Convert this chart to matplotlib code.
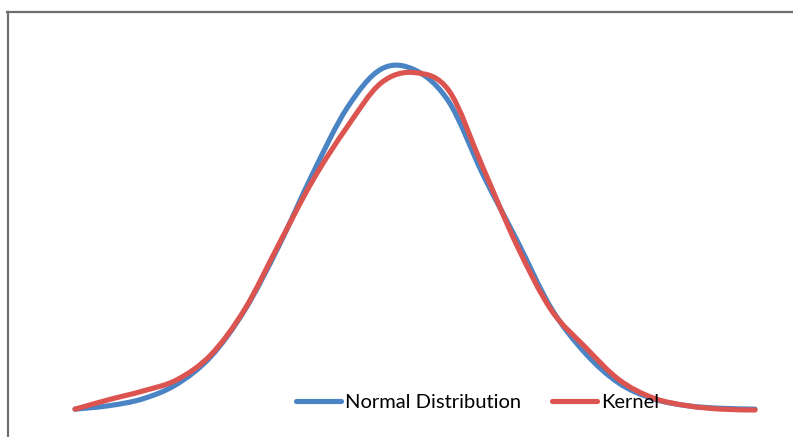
import matplotlib.pyplot as plt
from matplotlib.path import Path
from matplotlib.patches import PathPatch
from matplotlib.lines import Line2D

# x positions of the points
x = [-3.5, -3.15, -2.8, -2.45, -2.1, -1.75, -1.4, -1.05, -0.7, -0.35, 0.0,
     0.35, 0.7, 1.05, 1.4, 1.75, 2.1, 2.45, 2.8, 3.15, 3.5]

normal = [0.001, 0.005, 0.013, 0.030, 0.062, 0.116, 0.190, 0.274, 0.349, 0.394, 0.393,
          0.356, 0.272, 0.196, 0.118, 0.066, 0.031, 0.013, 0.005, 0.002, 0.001]

kernel = [0.001, 0.012, 0.022, 0.035, 0.064, 0.117, 0.192, 0.266, 0.327, 0.378, 0.390,
          0.369, 0.280, 0.190, 0.116, 0.073, 0.035, 0.014, 0.005, 0.001, 0.000]

labels = ['Normal Distribution', 'Kernel']
colors = ['#4a84c4', '#dc5450']


def smooth_path(xs, ys):
    # excel-like smoothed line: bezier segments between the points
    pts = list(zip(xs, ys))
    n = len(pts)
    verts = [pts[0]]
    codes = [Path.MOVETO]
    for i in range(n - 1):
        p0 = pts[i - 1] if i > 0 else pts[i]
        p1 = pts[i]
        p2 = pts[i + 1]
        p3 = pts[i + 2] if i + 2 < n else pts[i + 1]
        c1 = (p1[0] + (p2[0] - p0[0]) / 6, p1[1] + (p2[1] - p0[1]) / 6)
        c2 = (p2[0] - (p3[0] - p1[0]) / 6, p2[1] - (p3[1] - p1[1]) / 6)
        verts += [c1, c2, p2]
        codes += [Path.CURVE4] * 3
    return Path(verts, codes)


fig = plt.figure(figsize=(7.93, 4.37), dpi=100)
ax = fig.add_axes([7.5 / 793, 0, 785.5 / 793, 425 / 437])

for ys, c in zip([normal, kernel], colors):
    patch = PathPatch(smooth_path(x, ys), facecolor='none', edgecolor=c,
                      linewidth=3.7, capstyle='round', joinstyle='round')
    ax.add_patch(patch)

ax.set_xlim(-4.195, 3.891)
ax.set_ylim(-0.0312, 0.4601)
ax.set_xticks([])
ax.set_yticks([])
ax.spines['right'].set_visible(False)
ax.spines['bottom'].set_visible(False)
for s in ['left', 'top']:
    ax.spines[s].set_color('#6e6e6e')
    ax.spines[s].set_linewidth(1.6)

handles = [Line2D([], [], color=c, linewidth=3.7, solid_capstyle='round') for c in colors]
fig.legend(handles, labels, ncol=2, loc='center', frameon=False,
           bbox_to_anchor=(477.5 / 793, 35 / 437),
           prop={'family': 'Lato', 'size': 14.5},
           handlelength=2.25, handletextpad=0.2, columnspacing=1.5)

fig.savefig('out.png', dpi=100)
